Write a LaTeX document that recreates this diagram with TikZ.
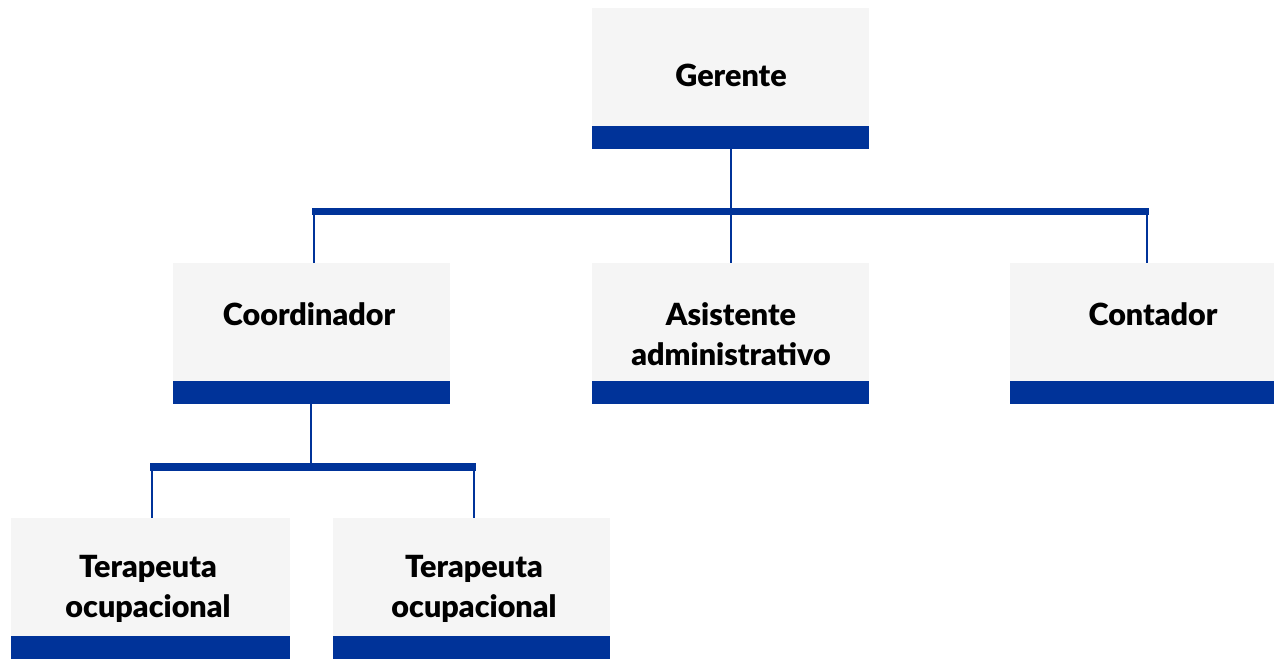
\documentclass[tikz,border=0pt]{standalone}
\usepackage{fontspec}
\setmainfont{Lato}[BoldFont={Lato Black}]
\definecolor{orgblue}{HTML}{003399}
\definecolor{orggray}{HTML}{F5F5F5}
\begin{document}
\begin{tikzpicture}[x=1pt,y=-1pt,
  orgbox/.style={rectangle, fill=orggray, minimum width=277pt, minimum height=141pt,
    inner sep=0pt, anchor=north west,
    path picture={\fill[orgblue] (path picture bounding box.south west) rectangle ([yshift=23.5pt]path picture bounding box.south east);}},
  lbl/.style={font=\bfseries\fontsize{30.5}{39.5}\selectfont, align=center, text=black, inner sep=0pt},
  thinline/.style={draw=orgblue, line width=2.6pt},
  barline/.style={draw=orgblue, line width=7.5pt}]
\useasboundingbox (0,0) rectangle (1274,659);

% boxes
\node[orgbox] (ger) at (592,8) {};
\node[orgbox] (coo) at (173,263) {};
\node[orgbox] (asi) at (592,263) {};
\node[orgbox] (con) at (1010,263) {};
\node[orgbox, minimum width=279pt] (ter1) at (11,518) {};
\node[orgbox] (ter2) at (333,518) {};

% labels
\node[lbl] (gerT) at (731,75) {Gerente};
\node[lbl] (cooT) at (309,314) {Coordinador};
\node[lbl] (asiT) at (731,334) {Asistente\\administrativo};
\node[lbl] (conT) at (1153,314) {Contador};
\node[lbl] (ter1T) at (148,589) {Terapeuta\\ocupacional};
\node[lbl] (ter2T) at (474,589) {Terapeuta\\ocupacional};

% bus coordinates
\coordinate (busL) at (312,211.5);
\coordinate (busR) at (1149,211.5);
\coordinate (busC) at (731,211.5);
\coordinate (dropCoo) at (314,211.5);
\coordinate (dropCon) at (1147,211.5);
\coordinate (sbusL) at (150,467);
\coordinate (sbusR) at (476,467);
\coordinate (sbusC) at (311,467);
\coordinate (dropT1) at (152,467);
\coordinate (dropT2) at (474,467);

% connectors
\draw[thinline] (ger.south -| busC) -- (asi.north -| busC);
\draw[thinline] (dropCoo) -- (dropCoo |- coo.north);
\draw[thinline] (dropCon) -- (dropCon |- con.north);
\draw[barline] (busL) -- (busR);

\draw[thinline] (coo.south -| sbusC) -- (sbusC);
\draw[thinline] (dropT1) -- (dropT1 |- ter1.north);
\draw[thinline] (dropT2) -- (dropT2 |- ter2.north);
\draw[barline] (sbusL) -- (sbusR);
\end{tikzpicture}
\end{document}
